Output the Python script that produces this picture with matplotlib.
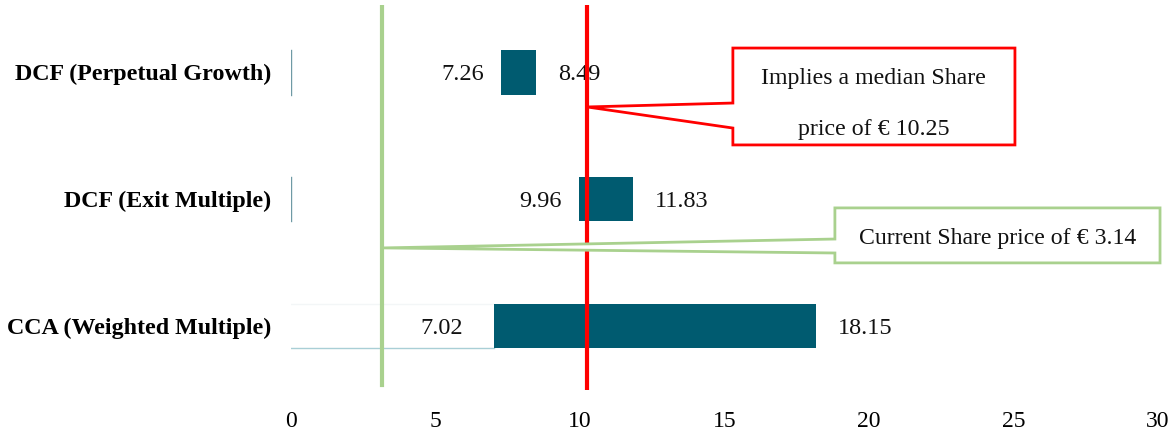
import matplotlib
matplotlib.use("Agg")
import matplotlib.pyplot as plt
from matplotlib.patches import Polygon

# Valuation ranges (EUR per share)
methods = ["DCF (Perpetual Growth)", "DCF (Exit Multiple)", "CCA (Weighted Multiple)"]
low_values = [7.26, 9.96, 7.02]
high_values = [8.49, 11.83, 18.15]
median_price = 10.25
current_price = 3.14
x_ticks = [0, 5, 10, 15, 20, 25, 30]

bar_color = "#005B70"
red = "#FF0000"
green = "#A9D18E"

plt.rcParams["font.family"] = ["Liberation Serif", "DejaVu Serif"]

fig = plt.figure(figsize=(11.7, 4.32), dpi=100)
ax = fig.add_axes([291 / 1170, 1 - 390 / 432, (1158 - 291) / 1170, (390 - 5) / 432])

ypos = list(range(len(methods)))
bar_h = 0.354
widths = [h - l for l, h in zip(low_values, high_values)]
ax.barh(ypos, widths, left=low_values, height=bar_h, color=bar_color, zorder=2)

# faint outline remnants of the invisible base segments
for i, (y, lo) in enumerate(zip(ypos, low_values)):
    if i < 2:
        ax.plot([0, 0], [y - bar_h / 2, y + bar_h / 2], color="#6f9aa5", lw=1.0, zorder=1)
    else:
        ax.plot([0, lo], [y + bar_h / 2, y + bar_h / 2], color="#a9cfd6", lw=1.0, zorder=1)
        ax.plot([0, lo], [y - bar_h / 2, y - bar_h / 2], color="#f3f6f7", lw=1.0, zorder=1)

# value labels on either side of each bar
left_gaps = [-12, -12, -22]
for y, lo, hi, gap in zip(ypos, low_values, high_values, left_gaps):
    ax.annotate(f"{lo:.2f}", (lo, y), xytext=(gap, 0), textcoords="offset points",
                ha="right", va="center_baseline", fontsize=17.5, color="#111111")
    ax.annotate(f"{hi:.2f}", (hi, y), xytext=(16, 0), textcoords="offset points",
                ha="left", va="center_baseline", fontsize=17.5, color="#111111")

ax.set_xlim(0, 30)
ax.set_ylim(2.504, -0.528)
ax.set_xticks(x_ticks)
ax.set_xticklabels([str(t) for t in x_ticks], fontsize=17)
ax.tick_params(axis="x", length=0, pad=15)
ax.set_yticks(ypos)
ax.set_yticklabels(methods, fontsize=17.3, fontweight="bold")
ax.tick_params(axis="y", length=0, pad=14)
for s in ax.spines.values():
    s.set_visible(False)

# reference price lines
ax.axvline(median_price, ymin=0.005, ymax=1.0, color=red, lw=3, zorder=3)
ax.axvline(current_price, ymin=0.013, ymax=1.0, color=green, lw=3, zorder=3)


def callout(x0, x1, y0, y1, yb0, yb1, tip, color):
    """Rectangle with a wedge pointer leaving its left side towards tip."""
    pts = [(x0, y0), (x1, y0), (x1, y1), (x0, y1), (x0, yb1), tip, (x0, yb0)]
    poly = Polygon(pts, closed=True, facecolor="white", edgecolor=color,
                   lw=2, zorder=4, clip_on=False, joinstyle="miter")
    ax.add_patch(poly)


callout(15.29, 25.05, -0.189, 0.574, 0.244, 0.441, (median_price, 0.275), red)
ax.text(20.17, 0.035, "Implies a median Share", ha="center", va="center_baseline",
        fontsize=17.2, color="#111111", zorder=5)
ax.text(20.17, 0.43, f"price of \u20ac {median_price:.2f}", ha="center", va="center_baseline",
        fontsize=17.2, color="#111111", zorder=5)

callout(18.82, 30.07, 1.07, 1.503, 1.315, 1.425, (current_price + 0.06, 1.385), green)
ax.text(24.45, 1.29, f"Current Share price of \u20ac {current_price:.2f}", ha="center",
        va="center_baseline", fontsize=17.1, color="#111111", zorder=5)

fig.savefig("out.png", dpi=100)
